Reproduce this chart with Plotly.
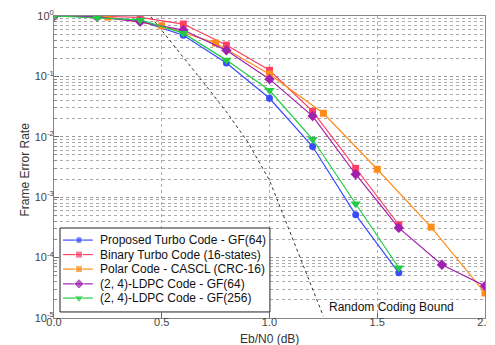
import plotly.graph_objects as go

# ---- data ----
eb_02 = [0.0, 0.2, 0.4, 0.6, 0.8, 1.0, 1.2, 1.4, 1.6]
eb_02_long = [0.0, 0.2, 0.4, 0.6, 0.8, 1.0, 1.2, 1.4, 1.6, 1.8, 2.0]
eb_025 = [0.0, 0.25, 0.5, 0.75, 1.0, 1.25, 1.5, 1.75, 2.0]

fer_proposed = [1.0, 0.98, 0.83, 0.48, 0.166, 0.0435, 0.0069, 5.1e-4, 5.6e-5]
fer_binary = [1.0, 0.99, 0.95, 0.736, 0.33, 0.126, 0.0264, 3.0e-3, 3.5e-4]
fer_polar = [1.0, 0.96, 0.69, 0.356, 0.109, 0.0245, 2.9e-3, 3.2e-4, 2.6e-5]
fer_ldpc64 = [1.0, 0.97, 0.80, 0.585, 0.27, 0.09, 0.022, 2.4e-3, 3.1e-4, 7.6e-5, 3.4e-5]
fer_ldpc256 = [1.0, 0.94, 0.86, 0.52, 0.186, 0.059, 0.0091, 7.8e-4, 6.8e-5]

eb_rcb = [0.45, 0.5, 0.6, 0.7, 0.8, 0.9, 1.0, 1.1, 1.2, 1.25]
fer_rcb = [0.97, 0.585, 0.21, 0.074, 0.026, 0.0081, 0.0019, 2.4e-4, 3.2e-5, 1.07e-5]

names = [
    "Proposed Turbo Code - GF(64)",
    "Binary Turbo Code (16-states)",
    "Polar Code - CASCL (CRC-16)",
    "(2, 4)-LDPC Code - GF(64)",
    "(2, 4)-LDPC Code - GF(256)",
]
colors = ["#3a4cff", "#ff4060", "#ff8c1a", "#a020b0", "#22cc44"]
symbols = ["circle", "square", "square", "diamond", "triangle-down"]
marker_sizes = [7, 7, 7, 8, 9]

x_ticks = [0.0, 0.5, 1.0, 1.5, 2.0]
x_ticktext = ["0.0", "0.5", "1.0", "1.5", "2.0"]
y_ticks = [1e-5, 1e-4, 1e-3, 1e-2, 1e-1, 1e0]
y_ticktext = ["10<sup>-5</sup>", "10<sup>-4</sup>", "10<sup>-3</sup>",
              "10<sup>-2</sup>", "10<sup>-1</sup>", "10<sup>0</sup>"]
y_minor = [m * 10.0 ** e for e in range(-5, 0) for m in range(2, 10)]

series = [
    (eb_02, fer_proposed),
    (eb_02, fer_binary),
    (eb_025, fer_polar),
    (eb_02_long, fer_ldpc64),
    (eb_02, fer_ldpc256),
]

FONT = "Liberation Sans, Arial, sans-serif"

# ---- layout of the hand-made legend (fractions of the plot area) ----
LEG_BOX = (0.014, 0.501, 0.020, 0.298)   # x0, x1, y0, y1
LEG_ROWS = [0.258, 0.210, 0.162, 0.113, 0.066]
LEG_LINE = (0.021, 0.058, 0.090)          # line start, marker, line end
LEG_TEXT_X = 0.102

fig = go.Figure()

fig.add_trace(go.Scatter(
    x=eb_rcb, y=fer_rcb, mode="lines", showlegend=False,
    line=dict(color="#333333", width=1, dash="dot"),
))

for (xs, ys), n, c, s, ms in zip(series, names, colors, symbols, marker_sizes):
    fig.add_trace(go.Scatter(
        x=xs, y=ys, mode="lines+markers", name=n, showlegend=False,
        line=dict(color=c, width=1.2),
        marker=dict(color=c, symbol=s, size=ms),
    ))

# legend box (on overlay axes so it sits above the curves)
bx0, bx1, by0, by1 = LEG_BOX
fig.add_trace(go.Scatter(
    x=[bx0, bx1, bx1, bx0, bx0], y=[by0, by0, by1, by1, by0],
    xaxis="x2", yaxis="y2", mode="lines", fill="toself",
    fillcolor="white", line=dict(color="#222222", width=1),
    showlegend=False, hoverinfo="skip",
))
for row, n, c, s, ms in zip(LEG_ROWS, names, colors, symbols, marker_sizes):
    fig.add_trace(go.Scatter(
        x=list(LEG_LINE), y=[row, row, row], xaxis="x2", yaxis="y2",
        mode="lines+markers", showlegend=False, hoverinfo="skip",
        line=dict(color=c, width=1.2),
        marker=dict(color=c, symbol=s, size=[0, ms, 0]),
    ))
    fig.add_annotation(
        x=LEG_TEXT_X, y=row, xref="x2", yref="y2", text=n, showarrow=False,
        xanchor="left", yanchor="middle",
        font=dict(size=12, color="#111111", family=FONT),
    )

fig.add_annotation(
    x=1.567, y=-4.82, xref="x", yref="y", text="Random Coding Bound",
    showarrow=False, font=dict(size=12, color="#111111", family=FONT),
)

fig.add_annotation(
    x=-0.087, y=0.49, xref="paper", yref="paper", text="Frame Error Rate",
    textangle=-90, showarrow=False,
    font=dict(size=12, color="#333333", family=FONT),
)
fig.add_annotation(
    x=0.5, y=-0.071, xref="paper", yref="paper", text="Eb/N0 (dB)",
    showarrow=False, yanchor="middle",
    font=dict(size=12, color="#333333", family=FONT),
)

fig.update_layout(
    width=495, height=345,
    # the page body adds an 8px offset, so the margins compensate for it
    margin=dict(l=46, r=18, t=8, b=35),
    paper_bgcolor="white", plot_bgcolor="white",
    font=dict(family=FONT, size=11, color="#444444"),
    showlegend=False,
    xaxis=dict(
        range=[0, 2], tickvals=x_ticks, ticktext=x_ticktext, automargin=False,
        ticks="inside", ticklen=5, tickcolor="#666666", ticklabelstandoff=-6,
        showline=True, linecolor="#888888", linewidth=1, mirror=True,
        showgrid=True, gridcolor="#aaaaaa", griddash="dot", gridwidth=1,
        zeroline=False,
    ),
    yaxis=dict(
        type="log", range=[-5, 0], tickvals=y_ticks, ticktext=y_ticktext,
        automargin=False, ticklabelstandoff=-3,
        ticks="inside", ticklen=5, tickcolor="#666666",
        showline=True, linecolor="#888888", linewidth=1, mirror=True,
        showgrid=True, gridcolor="#999999", griddash="dot", gridwidth=1,
        zeroline=False,
        minor=dict(tickvals=y_minor, ticks="inside", ticklen=3, tickcolor="#888888",
                   showgrid=True, gridcolor="#aaaaaa", griddash="dot", gridwidth=1),
    ),
    xaxis2=dict(range=[0, 1], overlaying="x", visible=False, fixedrange=True),
    yaxis2=dict(range=[0, 1], overlaying="y", visible=False, fixedrange=True),
)

fig.write_html("out.html")
